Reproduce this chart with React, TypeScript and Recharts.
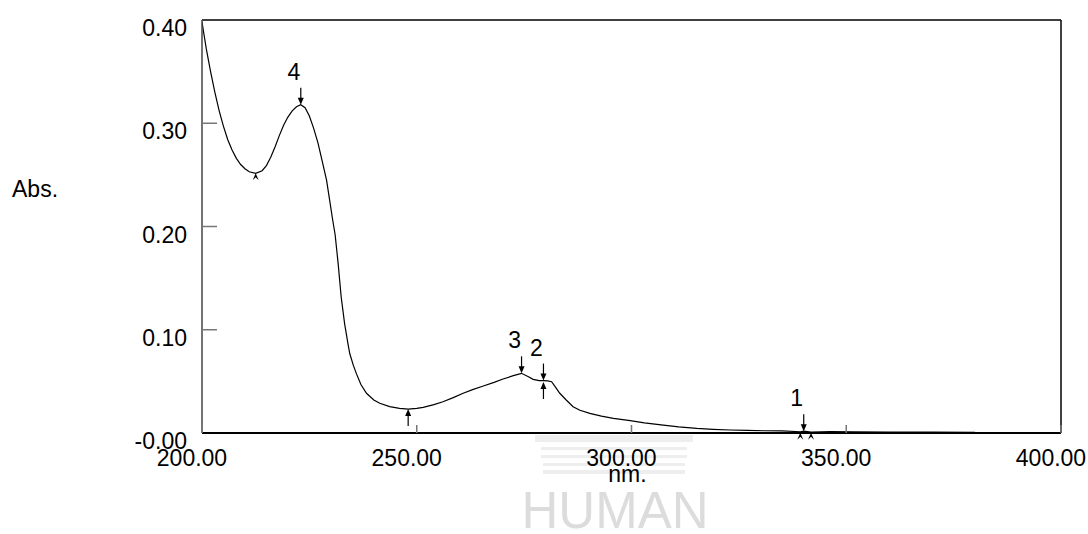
import React from 'react';
import { ComposedChart, Line, XAxis, YAxis, ReferenceDot } from 'recharts';

// UV spectrum
const wavelengths = [
  200.0, 201.0, 202.0, 203.0, 204.0, 205.0, 206.0, 207.0, 208.0, 209.0, 210.0, 211.0, 212.5,
  214.0, 215.0, 216.0, 217.0, 218.0, 219.0, 220.0, 221.0, 222.0, 223.0, 224.0, 225.0, 226.0,
  227.0, 228.0, 229.0, 229.7, 230.4, 231.0, 231.7, 232.4, 233.2, 234.0, 234.4, 235.2, 235.9,
  237.0, 238.3, 240.0, 241.4, 243.7, 246.0, 248.0, 250.0, 251.5, 254.0, 256.1, 258.5, 260.8,
  263.0, 265.5, 268.0, 270.1, 272.5, 274.4, 276.0, 277.1, 278.5, 279.5, 280.5, 281.4, 282.3,
  283.3, 284.8, 286.4, 288.0, 290.3, 293.0, 295.8, 299.7, 303.0, 307.4, 311.0, 315.2, 319.0,
  323.0, 327.0, 330.7, 335.0, 339.3, 340.1, 341.8, 346.3, 352.0, 360.0, 370.0, 380.0,
];
const absorbance = [
  0.398, 0.372, 0.35, 0.33, 0.312, 0.297, 0.284, 0.274, 0.266, 0.26, 0.256, 0.253, 0.2515,
  0.254, 0.259, 0.267, 0.277, 0.288, 0.298, 0.306, 0.312, 0.316, 0.318, 0.315, 0.307, 0.295,
  0.281, 0.263, 0.245, 0.226, 0.207, 0.192, 0.164, 0.132, 0.106, 0.086, 0.077, 0.066, 0.058,
  0.047, 0.0385, 0.032, 0.0288, 0.0255, 0.0238, 0.0232, 0.0238, 0.0249, 0.0275, 0.0303, 0.0343, 0.0385,
  0.042, 0.0455, 0.049, 0.0523, 0.0555, 0.0578, 0.0545, 0.052, 0.0508, 0.0507, 0.0505, 0.0497, 0.0445,
  0.0385, 0.032, 0.0255, 0.022, 0.019, 0.0163, 0.0142, 0.0119, 0.0098, 0.0077, 0.006, 0.0045, 0.0036,
  0.0029, 0.0025, 0.0022, 0.002, 0.0012, 0.0018, 0.0008, 0.0013, 0.0011, 0.0009, 0.0008, 0.0007,
];

const xTicks = [200, 250, 300, 350, 400];
const innerXTicks = [250, 300, 350];
const yTicks = [0, 0.1, 0.2, 0.3, 0.4];
const innerYTicks = [0.1, 0.2, 0.3];

const peaks = [
  { nm: 223.0, abs: 0.318, label: '4' },
  { nm: 274.4, abs: 0.0578, label: '3' },
  { nm: 279.5, abs: 0.0508, label: '2' },
  { nm: 340.1, abs: 0.0018, label: '1' },
];
const valleys = [
  { nm: 248.0, abs: 0.0232 },
  { nm: 279.5, abs: 0.0494 },
];
const minorValleys = [
  { nm: 212.5, abs: 0.2515 },
  { nm: 339.3, abs: 0.0003 },
  { nm: 341.8, abs: 0.0003 },
];

const spectrum = wavelengths.map((nm, i) => ({ nm, abs: absorbance[i] }));

const FONT = 'Arial, "Liberation Sans", sans-serif';

const BottomTick = (props: any) => {
  const { x, y, payload } = props;
  return (
    <g>
      <line x1={x} y1={y} x2={x} y2={y - 8} stroke="#777" strokeWidth={1.5} />
      <text x={x - 10} y={y + 33} textAnchor="middle" fontSize={23} fontFamily={FONT} fill="#000">
        {payload.value.toFixed(2)}
      </text>
    </g>
  );
};

const TopTick = (props: any) => {
  const { x, y } = props;
  return <line x1={x} y1={y} x2={x} y2={y + 8} stroke="#777" strokeWidth={1.5} />;
};

const LeftTick = (props: any) => {
  const { x, y, payload } = props;
  const label = payload.value === 0 ? '-0.00' : payload.value.toFixed(2);
  return (
    <g>
      {payload.value > 0 && payload.value < 0.4 && (
        <line x1={x} y1={y} x2={x + 15} y2={y} stroke="#777" strokeWidth={1.5} />
      )}
      <text x={x - 15} y={y + 16} textAnchor="end" fontSize={23} fontFamily={FONT} fill="#000">
        {label}
      </text>
    </g>
  );
};

const RightTick = (props: any) => {
  const { x, y } = props;
  return <line x1={x - 15} y1={y} x2={x} y2={y} stroke="#777" strokeWidth={1.5} />;
};

const PeakArrow = (props: any) => {
  const { cx, cy, text } = props;
  return (
    <g>
      <line x1={cx} y1={cy - 17} x2={cx} y2={cy - 4} stroke="#000" strokeWidth={1.2} />
      <path d={`M${cx - 3},${cy - 7} L${cx},${cy} L${cx + 3},${cy - 7} Z`} fill="#000" />
      <text x={cx - 7} y={cy - 25} textAnchor="middle" fontSize={23} fontFamily={FONT} fill="#000">
        {text}
      </text>
    </g>
  );
};

const ValleyArrow = (props: any) => {
  const { cx, cy } = props;
  return (
    <g>
      <line x1={cx} y1={cy + 17} x2={cx} y2={cy + 4} stroke="#000" strokeWidth={1.2} />
      <path d={`M${cx - 3},${cy + 7} L${cx},${cy} L${cx + 3},${cy + 7} Z`} fill="#000" />
    </g>
  );
};

const ValleyHead = (props: any) => {
  const { cx, cy } = props;
  return <path d={`M${cx - 3},${cy + 7} L${cx},${cy} L${cx + 3},${cy + 7} L${cx},${cy + 4} Z`} fill="#000" />;
};

const NmLabel = (props: any) => {
  const { viewBox } = props;
  return (
    <text x={viewBox.x + viewBox.width / 2 - 4} y={viewBox.y + 49} textAnchor="middle" fontSize={23} fontFamily={FONT} fill="#000">
      nm.
    </text>
  );
};

const AbsLabel = () => (
  <text x={12} y={197} textAnchor="start" fontSize={23} fontFamily={FONT} fill="#000">
    Abs.
  </text>
);

const Watermark = () => (
  <svg width={1088} height={534} style={{ position: 'absolute', left: 0, top: 0 }}>
    <rect x={535} y={435} width={158} height={7} fill="#eeeeee" />
    <rect x={541} y={447} width={146} height={3} fill="#eeeeee" />
    <rect x={541} y={455} width={146} height={3} fill="#eeeeee" />
    <rect x={543} y={463} width={142} height={3} fill="#eeeeee" />
    <rect x={543} y={470} width={142} height={4} fill="#eeeeee" />
    <text x={615} y={528} textAnchor="middle" fontSize={51} fontFamily={FONT} fill="#dcdcdc">
      HUMAN
    </text>
  </svg>
);

export default function App() {
  return (
    <div style={{ position: 'absolute', left: 0, top: 0, width: 1088, height: 534, background: '#fff' }}>
      <Watermark />
      <div style={{ position: 'absolute', left: 0, top: 0 }}>
        <ComposedChart width={1088} height={534} data={spectrum} margin={{ top: 0, right: 0, bottom: 0, left: 0 }}>
          <XAxis
            dataKey="nm"
            type="number"
            domain={[200, 400]}
            ticks={xTicks}
            interval={0}
            allowDataOverflow
            height={101}
            tickSize={0}
            tickMargin={0}
            tickLine={false}
            tick={<BottomTick />}
            axisLine={{ stroke: '#000', strokeWidth: 2 }}
            label={<NmLabel />}
          />
          <XAxis
            xAxisId="top"
            orientation="top"
            type="number"
            domain={[200, 400]}
            ticks={innerXTicks}
            interval={0}
            height={20}
            tickSize={0}
            tickMargin={0}
            tickLine={false}
            tick={<TopTick />}
            axisLine={{ stroke: '#000', strokeWidth: 1.5 }}
          />
          <YAxis
            type="number"
            domain={[0, 0.4]}
            ticks={yTicks}
            interval={0}
            allowDataOverflow
            width={202}
            tickSize={0}
            tickMargin={0}
            tickLine={false}
            tick={<LeftTick />}
            axisLine={{ stroke: '#444', strokeWidth: 1.5 }}
            label={<AbsLabel />}
          />
          <YAxis
            yAxisId="right"
            orientation="right"
            type="number"
            domain={[0, 0.4]}
            ticks={innerYTicks}
            interval={0}
            width={27}
            tickSize={0}
            tickMargin={0}
            tickLine={false}
            tick={<RightTick />}
            axisLine={{ stroke: '#000', strokeWidth: 1.5 }}
          />
          <Line
            type="linear"
            dataKey="abs"
            stroke="#000"
            strokeWidth={1.2}
            dot={false}
            activeDot={false}
            isAnimationActive={false}
          />
          {peaks.map((p) => (
            <ReferenceDot
              key={`p${p.label}`}
              x={p.nm}
              y={p.abs}
              r={1}
              ifOverflow="visible"
              shape={(s: any) => <PeakArrow {...s} text={p.label} />}
            />
          ))}
          {valleys.map((v, i) => (
            <ReferenceDot key={`v${i}`} x={v.nm} y={v.abs} r={1} ifOverflow="visible" shape={(s: any) => <ValleyArrow {...s} />} />
          ))}
          {minorValleys.map((v, i) => (
            <ReferenceDot key={`m${i}`} x={v.nm} y={v.abs} r={1} ifOverflow="visible" shape={(s: any) => <ValleyHead {...s} />} />
          ))}
        </ComposedChart>
      </div>
    </div>
  );
}
